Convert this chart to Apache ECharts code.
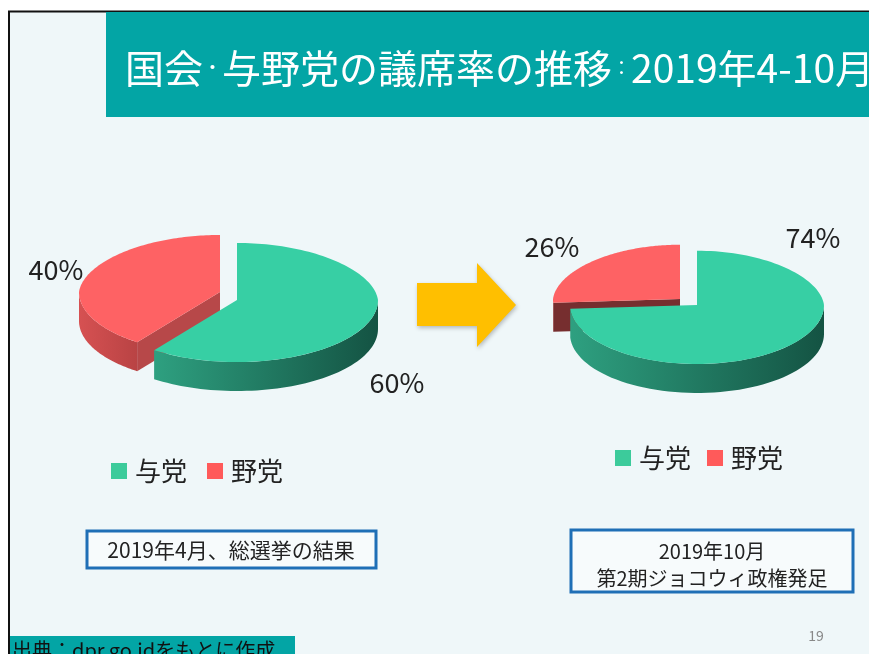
<!DOCTYPE html>
<html>
<head>
<meta charset="utf-8">
<script src="https://cdn.jsdelivr.net/npm/echarts@6/dist/echarts.min.js"></script>
<style>
html,body{margin:0;padding:0;background:#fff;}
#chart{width:869px;height:654px;}
</style>
</head>
<body>
<div id="chart"></div>
<script>
// ---- data ----
const pieNames = ['2019年4月', '2019年10月'];
const parties = ['与党', '野党'];
const ruling = [60, 74];
const opposition = [40, 26];
const partyValues = [ruling, opposition];
const captionLeft = ['2019年4月、総選挙の結果'];
const captionRight = ['2019年10月', '第2期ジョコウィ政権発足'];
const titleParts = ['国会', '・', '与野党の議席率の推移', '：', '2019年4-10月'];
const sourceText = '出典：dpr.go.idをもとに作成';
const pageNo = '19';

// ---- layout / style ----
const FONT = '"Noto Sans CJK JP", "Noto Sans", sans-serif';
const pieLayout = [
  {cx: 237, cy: 300, rx: 141, ry: 62, depth: 29},
  {cx: 697, cy: 305, rx: 127, ry: 59, depth: 29}
];
// explode offsets per pie, per party
const explode = [[[0, 0], [-17, -8]], [[0, 0], [-17, -6]]];
// label anchor per pie, per party
const labelPos = [[[397, 383], [56, 270]], [[813, 238], [552, 247]]];
const partyColors = ['#3CCB9B', '#FF5A5A'];
const topColors = ['#37CFA4', '#FE6264'];
const sideColors = [['#2ea080', '#145343'], ['#d65152', '#b94344']];
const baseRGB = [[58, 200, 158], [250, 98, 100]];

function shade(rgb, f) {
  return 'rgb(' + rgb.map(c => Math.round(c * f)).join(',') + ')';
}

function makeRender(p) {
  return function (params, api) {
    const i = params.dataIndex;
    const value = api.value(0);
    let total = 0, before = 0;
    for (let k = 0; k < partyValues.length; k++) {
      total += partyValues[k][i];
      if (k < p) before += partyValues[k][i];
    }
    const L = pieLayout[i];
    const off = explode[i][p];
    const cx = L.cx + off[0], cy = L.cy + off[1];
    const a0 = before / total * Math.PI * 2;
    const a1 = (before + value) / total * Math.PI * 2;
    const pt = (t, dz) => {
      const c = Math.cos(t);
      const k = c > 0 ? 1 - 0.06 * c : 1;
      return [cx + L.rx * k * Math.sin(t), cy - L.ry * (c > 0 ? 0.92 : 1) * c + (dz || 0)];
    };
    const children = [];
    const addCut = (a, nx) => {
      const f = 0.45 + 0.35 * nx;
      children.push({
        type: 'polygon',
        shape: {points: [[cx, cy], pt(a), pt(a, L.depth), [cx, cy + L.depth]]},
        style: {fill: shade(baseRGB[p], f)}
      });
    };
    if (Math.sin(a0) < -0.01) addCut(a0, -Math.cos(a0));
    if (Math.sin(a1) > 0.01) addCut(a1, Math.cos(a1));
    const s0 = Math.max(a0, Math.PI / 2), s1 = Math.min(a1, Math.PI * 1.5);
    if (s1 > s0) {
      const n = 60, top = [], bot = [];
      for (let k = 0; k <= n; k++) {
        const t = s0 + (s1 - s0) * k / n;
        top.push(pt(t));
        bot.push(pt(t, L.depth));
      }
      children.push({
        type: 'polygon',
        shape: {points: top.concat(bot.reverse())},
        style: {
          fill: new echarts.graphic.LinearGradient(0, 0, 1, 0, [
            {offset: 0, color: sideColors[p][0]},
            {offset: 1, color: sideColors[p][1]}
          ])
        }
      });
    }
    const n2 = 120, pts = [[cx, cy]];
    for (let k = 0; k <= n2; k++) pts.push(pt(a0 + (a1 - a0) * k / n2));
    children.push({type: 'polygon', shape: {points: pts}, style: {fill: topColors[p]}});
    const lp = labelPos[i][p];
    children.push({
      type: 'text',
      x: lp[0], y: lp[1],
      style: {
        text: Math.round(value / total * 100) + '%',
        fontSize: 27, fontFamily: FONT, fill: '#222',
        align: 'center', verticalAlign: 'middle'
      }
    });
    return {type: 'group', children: children};
  };
}

const chart = echarts.init(document.getElementById('chart'), null, {renderer: 'canvas'});

const seriesOrder = [1, 0];
const series = seriesOrder.map(p => ({
  type: 'custom',
  name: parties[p],
  coordinateSystem: 'none',
  itemStyle: {color: partyColors[p]},
  data: pieNames.map((nm, i) => ({name: nm, value: [partyValues[p][i]]})),
  renderItem: makeRender(p),
  silent: true
}));

const legendBase = {
  data: parties.slice(),
  icon: 'rect',
  itemWidth: 16,
  itemHeight: 16,
  selectedMode: false,
  textStyle: {fontSize: 26, color: '#222', fontFamily: FONT, padding: [0, 0, 0, 3]}
};

const titleRich = '{a|' + titleParts[0] + '}{p|' + titleParts[1] + '}{a|' + titleParts[2] + '}{p|' + titleParts[3] + '}{a|' + titleParts[4] + '}';

chart.setOption({
  animation: false,
  backgroundColor: '#ffffff',
  legend: [
    Object.assign({}, legendBase, {left: 106, top: 453, itemGap: 20}),
    Object.assign({}, legendBase, {left: 610, top: 440, itemGap: 16})
  ],
  graphic: [
    {type: 'rect', z: -10, shape: {x: 9, y: 12, width: 860, height: 642}, style: {fill: '#EFF7F9'}},
    {type: 'polyline', z: -9, shape: {points: [[9, 654], [9, 11.5], [869, 11.5]]}, style: {stroke: '#111', lineWidth: 2, fill: null}},
    {type: 'rect', z: -8, shape: {x: 106, y: 12, width: 763, height: 105}, style: {fill: '#03A5A5'}},
    {type: 'text', z: 5, x: 125, y: 68, style: {
      text: titleRich, verticalAlign: 'middle',
      rich: {
        a: {fontSize: 39, fontFamily: FONT, fill: '#fff'},
        p: {fontSize: 19, fontFamily: FONT, fill: '#fff'}
      }
    }},
    {type: 'polygon', z: 1, shape: {points: [[417, 283], [477, 283], [477, 263], [516, 305], [477, 347], [477, 326], [417, 326]]},
      style: {fill: '#FFBF00', shadowBlur: 4, shadowColor: 'rgba(0,0,0,0.25)', shadowOffsetX: 1, shadowOffsetY: 2}},
    {type: 'rect', z: 1, shape: {x: 87, y: 531, width: 289, height: 37}, style: {fill: '#F7FBFC', stroke: '#1F6FB6', lineWidth: 3}},
    {type: 'text', z: 2, x: 231, y: 550, style: {text: captionLeft[0], fontSize: 21, fontFamily: FONT, fill: '#222', align: 'center', verticalAlign: 'middle'}},
    {type: 'rect', z: 1, shape: {x: 571, y: 530, width: 282, height: 62}, style: {fill: '#F7FBFC', stroke: '#1F6FB6', lineWidth: 3}},
    {type: 'text', z: 2, x: 712, y: 551, style: {text: captionRight[0], fontSize: 20, fontFamily: FONT, fill: '#222', align: 'center', verticalAlign: 'middle'}},
    {type: 'text', z: 2, x: 712, y: 578, style: {text: captionRight[1], fontSize: 20, fontFamily: FONT, fill: '#222', align: 'center', verticalAlign: 'middle'}},
    {type: 'rect', z: 1, shape: {x: 10, y: 636, width: 285, height: 18}, style: {fill: '#03A5A5'}},
    {type: 'text', z: 2, x: 12, y: 640, style: {text: sourceText, fontSize: 20, fontFamily: FONT, fill: '#111', verticalAlign: 'top'}},
    {type: 'text', z: 2, x: 816, y: 636, style: {text: pageNo, fontSize: 14, fontFamily: FONT, fill: '#888', align: 'center', verticalAlign: 'middle'}}
  ],
  series: series
});
</script>
</body>
</html>
